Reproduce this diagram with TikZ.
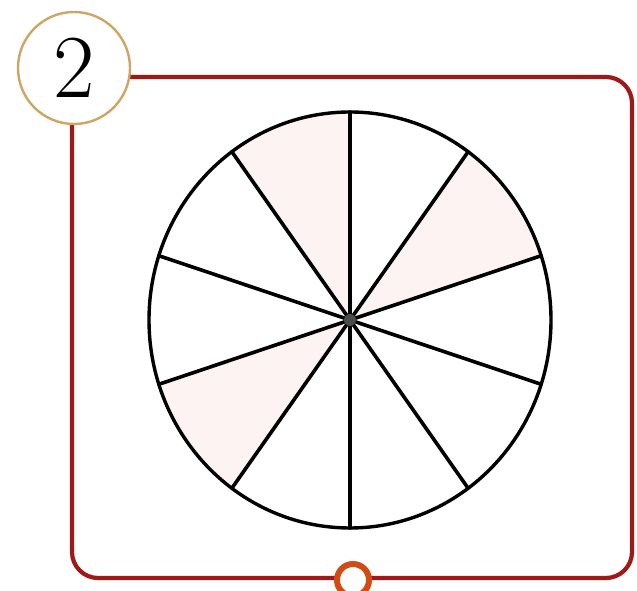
\documentclass[tikz,border=0pt]{standalone}
\usepackage{tikz}
\usetikzlibrary{positioning}

\definecolor{framered}{RGB}{160,24,24}
\definecolor{badgegold}{RGB}{205,165,100}
\definecolor{knoborange}{RGB}{210,75,20}
\definecolor{partpink}{RGB}{253,243,243}

\begin{document}
\begin{tikzpicture}[
  x=1pt, y=1pt,
  frame/.style={draw=framered, line width=4.2pt, rounded corners=26pt},
  badge/.style={circle, draw=badgegold, line width=2.4pt, fill=white, minimum size=112pt, inner sep=0pt, font=\fontsize{90}{90}\selectfont},
  knob/.style={circle, draw=knoborange, line width=6pt, fill=white, minimum size=32pt, inner sep=0pt},
  spoke/.style={line width=3.6pt, line cap=round},
  part/.style={fill=partpink},
  rim/.style={draw, line width=3.4pt},
]
  \useasboundingbox (0,0) rectangle (637,591);

  % Frame
  \coordinate (corner) at (72,514);
  \draw[frame] (corner) -- (632,514) -- (632,13) -- (72,13) -- cycle;

  % Badge and knob
  \node[badge] (num) at (74,523) {2};
  \node[knob] (knob) at (353,11) {};

  % Wheel
  \coordinate (hub) at (350,271);
  \foreach \a in {18, 90, 198}
    \fill[part] (hub) -- ++(\a:201 and 208)
      arc[start angle=\a, end angle=\a+36, x radius=201, y radius=208] -- cycle;
  \foreach \a in {18, 54, ..., 342}
    \draw[spoke] (hub) -- ++(\a:201 and 208);
  \draw[rim] (hub) ellipse[x radius=201, y radius=208];
  \fill[gray!60!black] (hub) circle[radius=6];

\end{tikzpicture}
\end{document}
